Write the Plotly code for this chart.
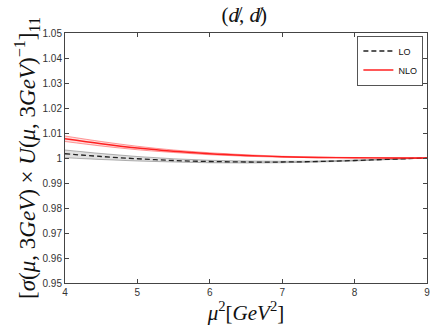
import plotly.graph_objects as go

mu2 = [4, 4.5, 5, 5.5, 6, 6.5, 7, 7.5, 8, 8.5, 9]

nlo_central = [1.0077, 1.0057, 1.0040, 1.0027, 1.0017, 1.0010, 1.0005, 1.0002, 1.0001, 1.0000, 1.0]
nlo_upper = [1.0088, 1.0066, 1.0047, 1.0032, 1.0021, 1.0013, 1.0007, 1.0004, 1.0002, 1.0001, 1.0]
nlo_lower = [1.0066, 1.0048, 1.0033, 1.0022, 1.0013, 1.0007, 1.0003, 1.0001, 1.0000, 0.99995, 1.0]

lo_central = [1.0017, 1.0006, 0.9997, 0.9990, 0.9986, 0.9984, 0.9984, 0.9986, 0.9990, 0.9995, 1.0]
lo_upper = [1.0032, 1.0018, 1.0006, 0.9997, 0.9991, 0.9988, 0.9987, 0.9988, 0.9992, 0.9996, 1.0]
lo_lower = [1.0001, 0.9994, 0.9988, 0.9984, 0.9981, 0.9980, 0.9981, 0.9984, 0.9988, 0.9994, 1.0]

x_ticks = [4, 5, 6, 7, 8, 9]
y_ticks = [0.95, 0.96, 0.97, 0.98, 0.99, 1.0, 1.01, 1.02, 1.03, 1.04, 1.05]
y_tick_labels = ["0.95", "0.96", "0.97", "0.98", "0.99", "1", "1.01", "1.02", "1.03", "1.04", "1.05"]

fig = go.Figure()

def band(upper, lower, edge, fill):
    fig.add_trace(go.Scatter(x=mu2, y=lower, mode="lines", line=dict(color=edge, width=1, shape="spline"),
                             showlegend=False, hoverinfo="skip"))
    fig.add_trace(go.Scatter(x=mu2, y=upper, mode="lines", line=dict(color=edge, width=1, shape="spline"),
                             fill="tonexty", fillcolor=fill, showlegend=False, hoverinfo="skip"))

band(lo_upper, lo_lower, "rgba(0,0,0,0.28)", "rgba(0,0,0,0.12)")
band(nlo_upper, nlo_lower, "rgba(255,0,0,0.38)", "rgba(255,0,0,0.13)")

fig.add_trace(go.Scatter(x=mu2, y=lo_central, mode="lines", name="LO",
                         line=dict(color="#222222", width=1.3, dash="5px,3px", shape="spline")))
fig.add_trace(go.Scatter(x=mu2, y=nlo_central, mode="lines", name="NLO",
                         line=dict(color="#ff2020", width=1.3, shape="spline")))

serif = "Liberation Serif, Times New Roman, serif"

fig.update_layout(
    width=436, height=327,
    margin=dict(l=65, r=6, t=33, b=44),
    paper_bgcolor="white", plot_bgcolor="white",
    font=dict(family="Liberation Sans, Arial, sans-serif", size=10, color="#333333"),
    title=dict(text="(<i>d̸</i>, <i>d̸</i>)", x=0.56, xanchor="center", y=0.955, yanchor="middle",
               font=dict(family=serif, size=21, color="#111111")),
    legend=dict(x=0.99, xanchor="right", y=0.99, yanchor="top", bgcolor="white",
                bordercolor="#555555", borderwidth=1, font=dict(size=9, color="#111111"),
                tracegroupgap=0, itemwidth=30, traceorder="normal"),
    showlegend=True,
)

fig.update_xaxes(range=[4, 9], tickvals=x_ticks, ticks="inside", ticklen=4, tickcolor="#444444",
                 showline=True, linecolor="#444444", linewidth=1, mirror="ticks", showgrid=False,
                 zeroline=False, ticklabeloverflow="allow",
                 title=dict(text="<i>μ</i><sup>2</sup>[<i>GeV</i><sup>2</sup>]", standoff=0,
                            font=dict(family=serif, size=21, color="#111111")))
fig.update_yaxes(range=[0.95, 1.05], tickvals=y_ticks, ticktext=y_tick_labels, ticks="inside", ticklen=4,
                 tickcolor="#444444", showline=True, linecolor="#444444", linewidth=1, mirror="ticks",
                 showgrid=False, zeroline=False,
                 title=dict(text="[<i>σ</i>(<i>μ</i>, 3<i>GeV</i>) × <i>U</i>(<i>μ</i>, 3<i>GeV</i>)<sup>−1</sup>]<sub>11</sub>",
                            standoff=0, font=dict(family=serif, size=23, color="#111111")))

fig.write_html("out.html", config={"displayModeBar": False},
               post_script="document.body.style.margin='0';document.body.style.overflow='hidden';")
